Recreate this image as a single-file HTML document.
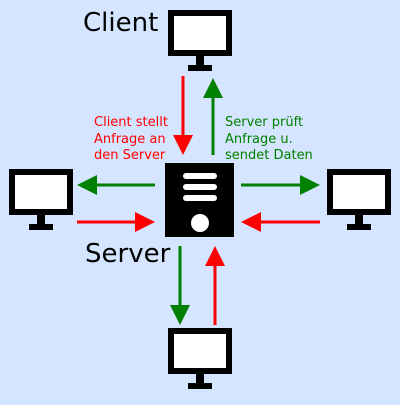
<!DOCTYPE html>
<html><head><style>body{margin:0;background:#d5e5ff}</style></head><body>
<svg width="400" height="400" xmlns="http://www.w3.org/2000/svg" font-family="DejaVu Sans, Liberation Sans, sans-serif">
<rect width="400" height="400" fill="#d5e5ff"/>
<defs>
<g id="mon">
<rect x="3" y="3" width="58" height="40" fill="#fff" stroke="#000" stroke-width="6"/>
<rect x="28" y="45" width="8" height="12" fill="#000"/>
<rect x="20" y="55" width="24" height="6" fill="#000"/>
</g>
</defs>
<use href="#mon" x="168" y="10"/>
<use href="#mon" x="9" y="169"/>
<use href="#mon" x="327" y="169"/>
<use href="#mon" x="168" y="328"/>
<rect x="165" y="163" width="69" height="74" fill="#000"/>
<rect x="183" y="173" width="34" height="6" rx="3" fill="#fff"/>
<rect x="183" y="184" width="34" height="6" rx="3" fill="#fff"/>
<rect x="183" y="195" width="34" height="6" rx="3" fill="#fff"/>
<circle cx="200" cy="223" r="9" fill="#fff"/>
<g stroke-width="3">
<line x1="183" y1="76" x2="183" y2="137" stroke="#f00"/><polygon points="173,135 193,135 183,155" fill="#f00"/>
<line x1="213" y1="155" x2="213" y2="96" stroke="#008000"/><polygon points="203,98 223,98 213,78" fill="#008000"/>
<line x1="155" y1="185" x2="95" y2="185" stroke="#008000"/><polygon points="97,175 97,195 77,185" fill="#008000"/>
<line x1="77" y1="222" x2="137" y2="222" stroke="#f00"/><polygon points="135,212 135,232 155,222" fill="#f00"/>
<line x1="241" y1="185" x2="302" y2="185" stroke="#008000"/><polygon points="300,175 300,195 320,185" fill="#008000"/>
<line x1="320" y1="222" x2="259" y2="222" stroke="#f00"/><polygon points="261,212 261,232 241,222" fill="#f00"/>
<line x1="180" y1="246" x2="180" y2="307" stroke="#008000"/><polygon points="170,305 190,305 180,325" fill="#008000"/>
<line x1="215" y1="325" x2="215" y2="264" stroke="#f00"/><polygon points="205,266 225,266 215,246" fill="#f00"/>
</g>
<text x="83" y="31" font-size="26">Client</text>
<text x="85" y="262" font-size="26">Server</text>
<g font-size="13" fill="#f00"><text x="94" y="126">Client stellt</text><text x="94" y="143">Anfrage an</text><text x="94" y="159">den Server</text></g>
<g font-size="13" fill="#008000"><text x="225" y="126">Server prüft</text><text x="225" y="143">Anfrage u.</text><text x="225" y="159">sendet Daten</text></g>
</svg>
</body></html>
